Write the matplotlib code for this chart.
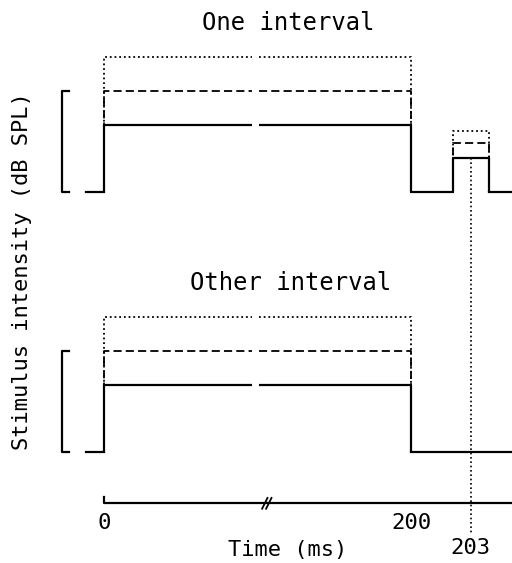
import numpy as np
import matplotlib.pyplot as plt

plt.rcParams['font.family'] = ['DejaVu Sans Mono']

# stimulus timing (ms)
masker_on = 0
masker_off = 200
probe_on = 202.1
probe_off = 203.9
probe_mark = 203
lead_in = -11.7
gap = [96.5, 101]          # drawn break in the masker traces

# levels (arbitrary dB steps) for solid, dashed, dotted traces
masker_levels = [2.0, 3.0, 4.0]
probe_levels = [1.0, 1.45, 1.8]
styles = ['-', (0, (4.5, 2.3)), (0, (1, 1.6))]
widths = [1.6, 1.3, 1.3]

tick_values = [0, 200, 203]
tick_text = ['0', '200', '203']

panel_offset = 7.70   # top panel baseline, in level units


def fwd(t):
    t = np.asarray(t, dtype=float)
    return np.where(t <= 200, t, 200 + (t - 200) * 13.0)


def inv(u):
    u = np.asarray(u, dtype=float)
    return np.where(u <= 200, u, 200 + (u - 200) / 13.0)


fig = plt.figure(figsize=(5.12, 5.63), dpi=100)
ax = fig.add_axes([0, 0, 1, 1])
ax.set_xscale('function', functions=(fwd, inv))
ax.set_xlim(-67.75, 205.06)
ax.set_ylim(-3.289, 13.393)
ax.axis('off')

x_end = 205.5
for base, with_probe in [(panel_offset, True), (0.0, False)]:
    for lvl, plvl, ls, lw in zip(masker_levels, probe_levels, styles, widths):
        left_x = [masker_on, masker_on, gap[0]]
        left_y = [base, base + lvl, base + lvl]
        right_x = [gap[1], masker_off, masker_off]
        right_y = [base + lvl, base + lvl, base]
        if with_probe:
            right_x += [probe_on, probe_on, probe_off, probe_off]
            right_y += [base, base + plvl, base + plvl, base]
        ax.plot(left_x, left_y, color='black', ls=ls, lw=lw, solid_capstyle='butt')
        ax.plot(right_x, right_y, color='black', ls=ls, lw=lw, solid_capstyle='butt')
    # baseline lead-in and tail
    ax.plot([lead_in, masker_on], [base, base], color='black', lw=1.6)
    ax.plot([probe_off if with_probe else masker_off, x_end], [base, base], color='black', lw=1.6)
    # scale bracket
    bx0, bx1 = -27.4, -22.8
    top = base + masker_levels[1]
    ax.plot([bx1, bx0, bx0, bx1], [top, top, base, base], color='black', lw=1.6)

# time axis
axis_y = -1.52
ax.plot([masker_on, masker_on, x_end], [axis_y + 0.18, axis_y, axis_y], color='black', lw=1.6)
for dx in [0, 2.6]:
    ax.plot([103 + dx, 106.5 + dx], [axis_y - 0.16, axis_y + 0.16], color='black', lw=1.3)

# probe marker line
ax.plot([probe_mark, probe_mark], [panel_offset + probe_levels[0], -2.39],
        color='black', ls=(0, (1, 1.6)), lw=1.2)

for v, s in zip(tick_values, tick_text):
    ty = -2.1 if v != 203 else -2.85
    ax.text(v, ty, s, ha='center', va='center', fontsize=16)

fig.text(288 / 512, 1 - 550 / 563, 'Time (ms)', ha='center', va='center', fontsize=15.8)
fig.text(288 / 512, 1 - 23 / 563, 'One interval', ha='center', va='center', fontsize=17.2)
fig.text(291 / 512, 1 - 283 / 563, 'Other interval', ha='center', va='center', fontsize=17.2)
fig.text(22 / 512, 1 - 271 / 563, 'Stimulus intensity (dB SPL)', ha='center', va='center',
         rotation=90, fontsize=15.8)

fig.savefig('out.png', dpi=100)
